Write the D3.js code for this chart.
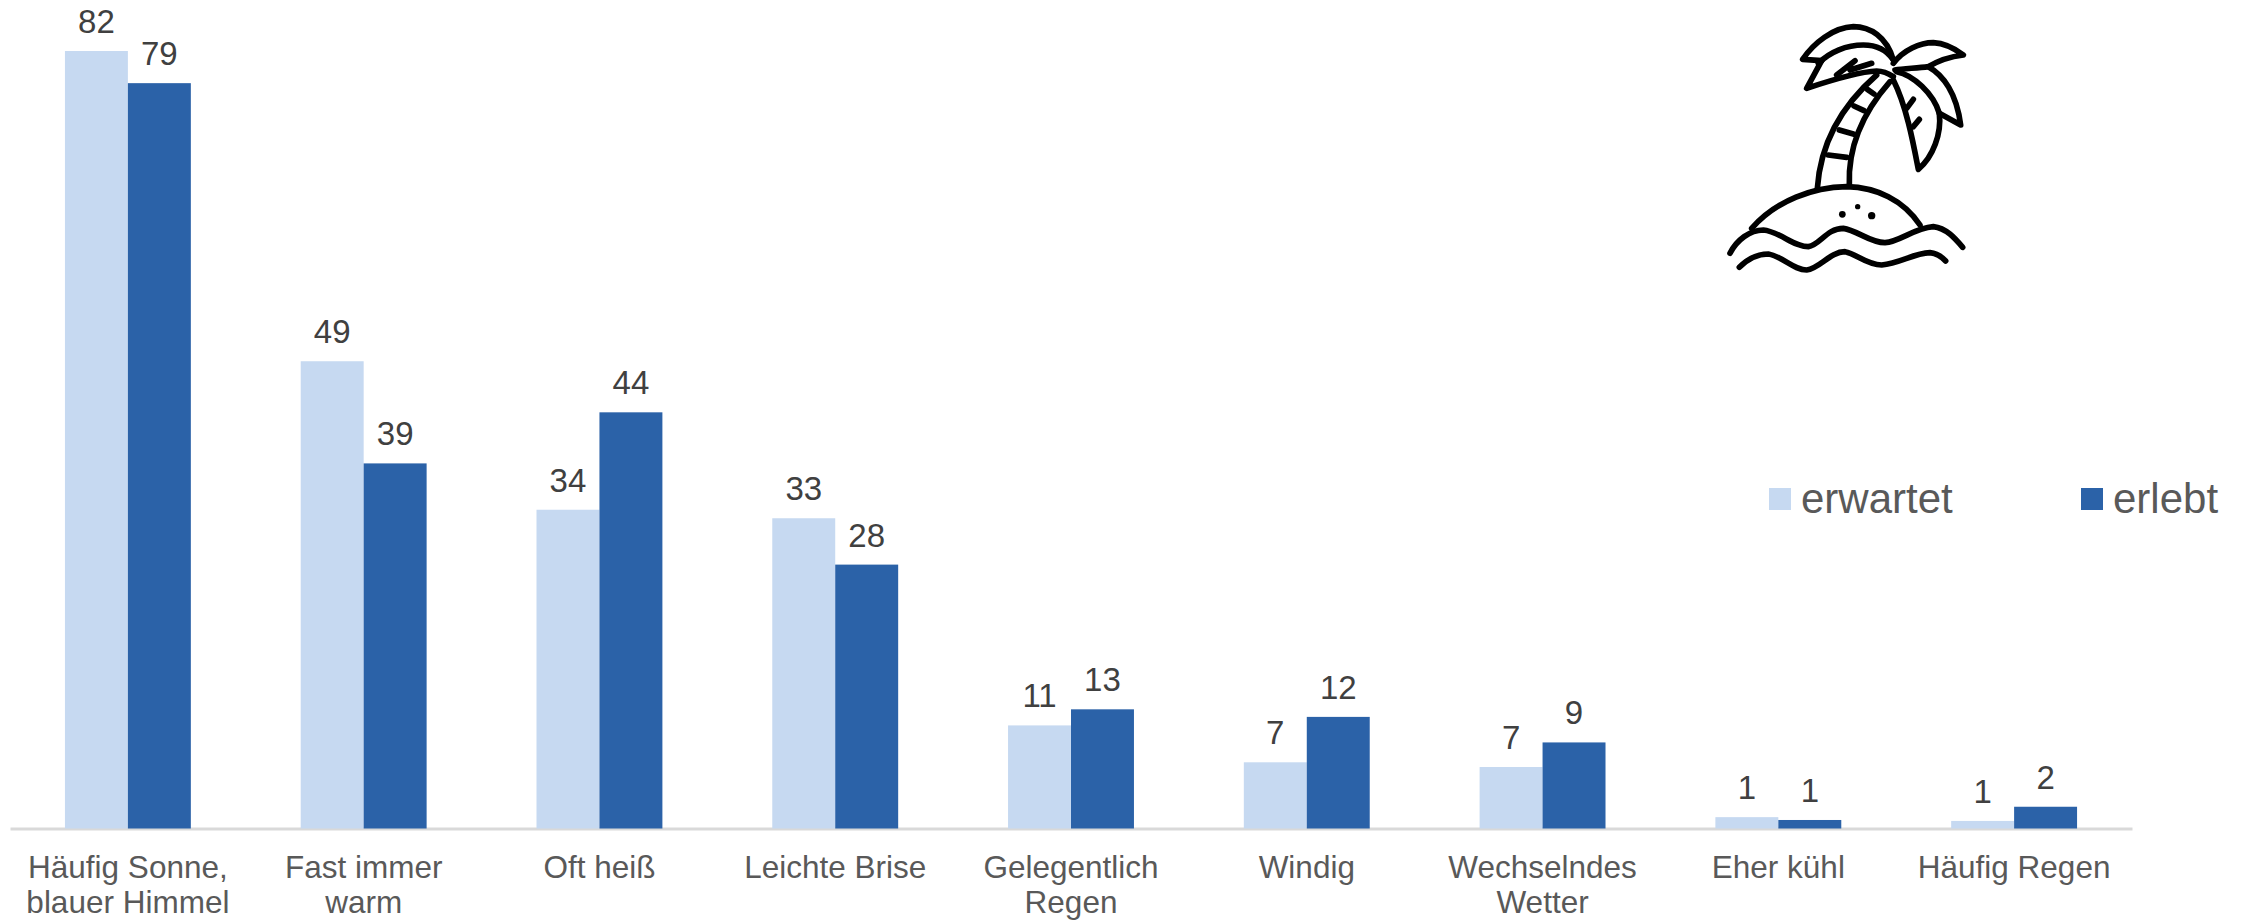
<!DOCTYPE html>
<html><head><meta charset="utf-8">
<script src="https://cdn.jsdelivr.net/npm/d3@7/dist/d3.min.js"></script>
<style>html,body{margin:0;background:#fff}svg{display:block}text{font-family:"Liberation Sans",Arial,sans-serif}</style>
</head><body><svg id="c" width="2244" height="920"></svg>
<script>
const categories = ["Häufig Sonne,\nblauer Himmel","Fast immer\nwarm","Oft heiß","Leichte Brise","Gelegentlich\nRegen","Windig","Wechselndes\nWetter","Eher kühl","Häufig Regen"];
const seriesNames = ["erwartet","erlebt"];
const erwartet = [82.2,49.4,33.7,32.8,10.9,7.0,6.5,1.2,0.8];
const erlebt = [78.8,38.6,44.0,27.9,12.6,11.8,9.1,0.9,2.3];
const colors = ["#C6D9F1","#2B62A8"];

const svg = d3.select("#c");
const baseY = 828.5, x0 = 10, x1 = 2132;
const x = d3.scaleBand().domain(categories).range([x0,x1]).paddingInner(0.466).paddingOuter(0.233);
const xs = d3.scaleBand().domain(seriesNames).range([0,x.bandwidth()]);
const y = d3.scaleLinear().domain([0,82.2]).range([baseY,51]);
const rows = [erwartet,erlebt];

// axis
const ax = svg.append("g").attr("transform",`translate(0,${baseY})`).call(d3.axisBottom(x).tickSize(0).tickPadding(0));
ax.select(".domain").attr("stroke","#D9D9D9").attr("stroke-width",3);
ax.selectAll(".tick text").each(function(d){
  const t = d3.select(this).text(null).attr("font-size",31.5).attr("fill","#595959").attr("dy",null).attr("y",0).attr("text-anchor","middle");
  d.split("\n").forEach((s,i)=>t.append("tspan").attr("x",0).attr("y",49+i*35).text(s));
});

// bars
seriesNames.forEach((n,si)=>{
  const g = svg.append("g");
  g.selectAll("rect").data(categories).join("rect")
    .attr("x",d=>x(d)+xs(n)).attr("width",xs.bandwidth())
    .attr("y",(d,i)=>y(rows[si][i])).attr("height",(d,i)=>baseY-y(rows[si][i]))
    .attr("fill",colors[si]);
  g.selectAll("text").data(categories).join("text")
    .attr("x",d=>x(d)+xs(n)+xs.bandwidth()/2).attr("y",(d,i)=>y(rows[si][i])-18)
    .attr("text-anchor","middle").attr("font-size",33).attr("fill","#404040")
    .text((d,i)=>Math.round(rows[si][i]));
});

// legend
const legendX = d3.scaleOrdinal().domain(seriesNames).range([1769,2081]);
const lg = svg.append("g").selectAll("g").data(seriesNames).join("g").attr("transform",d=>`translate(${legendX(d)},488)`);
lg.append("rect").attr("width",22).attr("height",22).attr("fill",(d,i)=>colors[i]);
lg.append("text").attr("x",32).attr("y",25).attr("font-size",42).attr("fill","#595959").text(d=>d);

// palm island pictogram
const icon = svg.append("g").attr("transform","translate(1680,0) scale(0.33333)")
  .attr("fill","none").attr("stroke","#000").attr("stroke-width",17).attr("stroke-linecap","round").attr("stroke-linejoin","round");
[
 "M640 180C620 110 570 80 520 80C460 82 400 130 368 178L425 182",
 "M425 182L380 265C440 245 540 215 590 213C610 213 625 220 640 230",
 "M415 190C450 155 500 135 550 135C590 135 620 150 640 180",
 "M470 225L525 182M510 210L575 190",
 "M640 190C670 150 720 128 760 128C800 130 830 150 850 165C810 170 770 185 745 200C710 205 670 205 645 210",
 "M745 200C790 225 830 280 842 375L778 340",
 "M650 215C700 225 760 280 778 340C785 400 760 470 715 508C700 430 680 320 640 240",
 "M680 325L700 298M700 380L718 358",
 "M412 565C420 450 470 330 590 225",
 "M508 555C505 480 520 370 630 245",
 "M445 465L500 472M478 390L520 402M522 318L552 332M562 268L582 282",
 "M215 685C290 600 400 562 500 560C590 562 670 600 720 675",
 "M150 760C170 720 210 690 250 690C300 695 340 740 385 740C420 735 440 685 490 685C530 690 570 728 615 728C660 725 700 685 760 680C800 685 825 715 848 742",
 "M178 802C200 780 230 762 265 762C310 770 340 810 380 810C420 805 450 755 495 755C530 762 560 795 605 795C660 790 700 760 750 758C770 760 785 770 797 783"
].forEach(p=>icon.append("path").attr("d",p));
[[487,643,10],[533,620,8],[575,647,11]].forEach(c=>icon.append("circle").attr("cx",c[0]).attr("cy",c[1]).attr("r",c[2]).attr("fill","#000").attr("stroke","none"));
</script></body></html>
